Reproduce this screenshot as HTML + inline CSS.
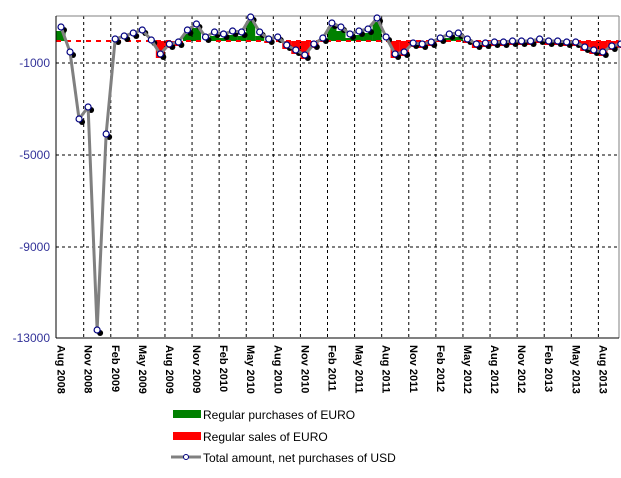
<!DOCTYPE html>
<html><head><meta charset="utf-8"><style>
body{margin:0;background:#fff}
svg text{font-family:"Liberation Sans",Arial,sans-serif}
</style></head><body>
<svg id="s" width="621" height="473" xmlns="http://www.w3.org/2000/svg">
<rect width="621" height="473" fill="#fff"/>
<g id="bars"></g>
<g id="grid" stroke="#000" stroke-width="1" stroke-dasharray="3,3"></g>
<line x1="56" y1="41" x2="619" y2="41" stroke="#f00" stroke-width="2" stroke-dasharray="5,5"/>
<line x1="56" y1="16" x2="619" y2="16" stroke="#808080"/>
<line x1="619" y1="16" x2="619" y2="338" stroke="#808080"/>
<line x1="56" y1="16" x2="56" y2="338" stroke="#000"/>
<line x1="56" y1="338" x2="619" y2="338" stroke="#000"/>
<g font-size="12" fill="#333399" text-anchor="end">
<text x="50" y="67">-1000</text><text x="50" y="159">-5000</text>
<text x="50" y="251">-9000</text><text x="50" y="342">-13000</text>
</g>
<g id="shadow"></g>
<polyline id="ln" fill="none" stroke="#808080" stroke-width="3" stroke-linejoin="round"/>
<g id="mk"></g>
<g id="xl" font-size="11" font-weight="bold" fill="#000"></g>
<rect x="173" y="410" width="28" height="8" fill="#008000"/>
<text x="203" y="419" font-size="12">Regular purchases of EURO</text>
<rect x="173" y="432" width="28" height="8" fill="#f00"/>
<text x="203" y="441" font-size="12">Regular sales of EURO</text>
<line x1="171" y1="457" x2="201" y2="457" stroke="#808080" stroke-width="3"/>
<circle cx="186" cy="457" r="2.5" fill="#fff" stroke="#000080"/>
<text x="203" y="462" font-size="12">Total amount, net purchases of USD</text>
</svg>
<script>
var NS="http://www.w3.org/2000/svg";
function el(p,t,a){var e=document.createElementNS(NS,t);for(var k in a)e.setAttribute(k,a[k]);p.appendChild(e);return e;}
var ys=[27,52,119,107,330,134,39,36,33,30,40,54,44,42,30,24,37,32,34,31,32,17,32,39,37,45,50,55,44,38,23,27,34,31,29,18,37,54,52,43,44,42,38,34,33,39,44,43,42,42,41,41,41,39,41,41,42,42,47,50,52,46,44];
var pts=[];for(var i=0;i<ys.length;i++){pts.push([61+i*9.03,ys[i]]);}
var g=document.getElementById('grid');
for(var m=3;m<=60;m+=3){var x=56.6+m*9.03;el(g,'line',{x1:x,y1:16,x2:x,y2:338});}
[63,155,247].forEach(function(y){el(g,'line',{x1:56,y1:y,x2:619,y2:y});});
var b=document.getElementById('bars');
for(var i=0;i<pts.length;i++){
 if(i>=1&&i<=10)continue;
 var y=pts[i][1]+4, x=pts[i][0]-4.5;
 if(y<41) el(b,'rect',{x:x,y:y,width:9.1,height:41-y,fill:'#008000'});
 else if(y>41) el(b,'rect',{x:x,y:41,width:9.1,height:Math.min(y,60)-41,fill:'#f00'});
}
document.getElementById('ln').setAttribute('points',pts.map(function(p){return p.join(',')}).join(' '));
var sh=document.getElementById('shadow'),mk=document.getElementById('mk');
pts.forEach(function(p){el(sh,'circle',{cx:p[0]+3,cy:p[1]+3,r:3,fill:'#000'});el(mk,'circle',{cx:p[0],cy:p[1],r:3,fill:'#fff',stroke:'#000080','stroke-width':1.2});});
var xl=document.getElementById('xl');
for(var k=0;k<21;k++){var yr=2008+Math.floor((k+2)/4);var lab=['Aug','Nov','Feb','May'][k%4]+' '+yr;
 var x=56.6+k*3*9.03+1;var t=el(xl,'text',{transform:'translate('+x+',345) rotate(90)'});t.textContent=lab;}
</script>
</body></html>
